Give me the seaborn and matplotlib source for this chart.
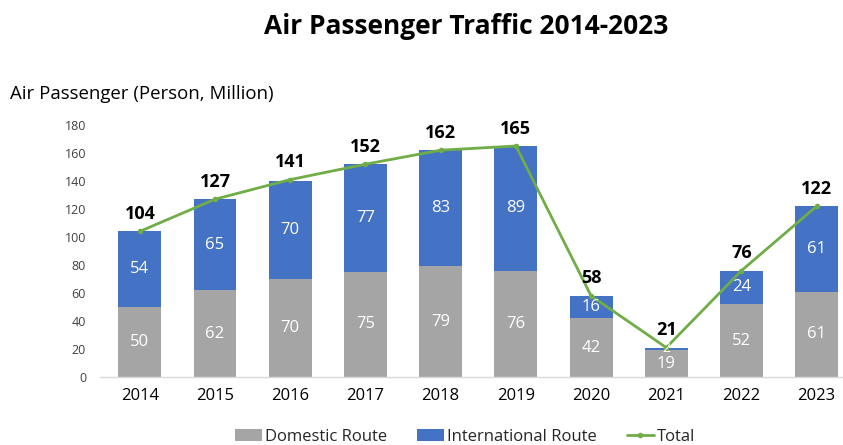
import matplotlib
matplotlib.use("Agg")
import matplotlib.pyplot as plt
import seaborn as sns
import pandas as pd
import numpy as np
from matplotlib.patches import Patch
from matplotlib.lines import Line2D

years = ["2014", "2015", "2016", "2017", "2018", "2019", "2020", "2021", "2022", "2023"]
domestic = [50, 62, 70, 75, 79, 76, 42, 19, 52, 61]
international = [54, 65, 70, 77, 83, 89, 16, 2, 24, 61]
total = [104, 127, 141, 152, 162, 165, 58, 21, 76, 122]

GRAY = "#A5A5A5"
BLUE = "#4472C4"
GREEN = "#70AD47"

sns.set_theme(style="white")
plt.rcParams["font.family"] = ["Open Sans", "DejaVu Sans"]

df = pd.DataFrame({
    "year": years,
    "domestic": domestic,
    "international": international,
    "stack": np.array(domestic) + np.array(international),
    "total": total,
    "pos": np.arange(len(years)),
})

fig = plt.figure(figsize=(8.43, 4.45), dpi=100)
ax = fig.add_axes([100 / 843, 1 - 377 / 445, 743 / 843, (377 - 125) / 445])

# stacked bars: full stack in blue, domestic drawn over it in gray
sns.barplot(data=df, x="year", y="stack", color=BLUE, saturation=1, width=0.57,
            linewidth=0, edgecolor="none", ax=ax)
sns.barplot(data=df, x="year", y="domestic", color=GRAY, saturation=1, width=0.57,
            linewidth=0, edgecolor="none", ax=ax)
sns.lineplot(data=df, x="pos", y="total", color=GREEN, lw=2, marker="o",
             markersize=4, markeredgewidth=0, ax=ax, zorder=5)

for i in range(len(years)):
    d, it, t = domestic[i], international[i], total[i]
    ax.text(i, d / 2, str(d), ha="center", va="center", color="white", fontsize=12,
            zorder=6)
    ax.text(i, d + it / 2, str(it), ha="center", va="center", color="white",
            fontsize=12 if it >= 10 else 10, zorder=6)
    ax.text(i, t + 6, str(t), ha="center", va="bottom", color="black",
            fontsize=13, fontweight="bold", zorder=6)

ax.set_xlim(-0.53, 9.35)
ax.set_ylim(0, 180)
ax.set_yticks(range(0, 181, 20))
ax.tick_params(axis="y", labelsize=9, colors="#404040", length=0, pad=10)
ax.tick_params(axis="x", labelsize=12, colors="black", length=0, pad=8)
ax.set_xlabel("")
ax.set_ylabel("")
for s in ["top", "right", "left"]:
    ax.spines[s].set_visible(False)
ax.spines["bottom"].set_color("#D9D9D9")
ax.spines["bottom"].set_linewidth(1)

fig.text(0.553, 0.94, "Air Passenger Traffic 2014-2023", ha="center", va="center",
         fontsize=19, fontweight="bold", color="black")
fig.text(10 / 843, 1 - 94 / 445, "Air Passenger (Person, Million)", ha="left",
         va="center", fontsize=13.4, color="black")

handles = [
    Patch(facecolor=GRAY, edgecolor="none"),
    Patch(facecolor=BLUE, edgecolor="none"),
    Line2D([0], [0], color=GREEN, lw=2, marker="o", markersize=4, markeredgewidth=0),
]
fig.legend(handles, ["Domestic Route", "International Route", "Total"],
           loc="center", bbox_to_anchor=(0.552, 1 - 437 / 445), ncol=3, frameon=False,
           fontsize=12, handlelength=1.6, handletextpad=0.2, columnspacing=1.8)

fig.savefig("out.png", dpi=100)
